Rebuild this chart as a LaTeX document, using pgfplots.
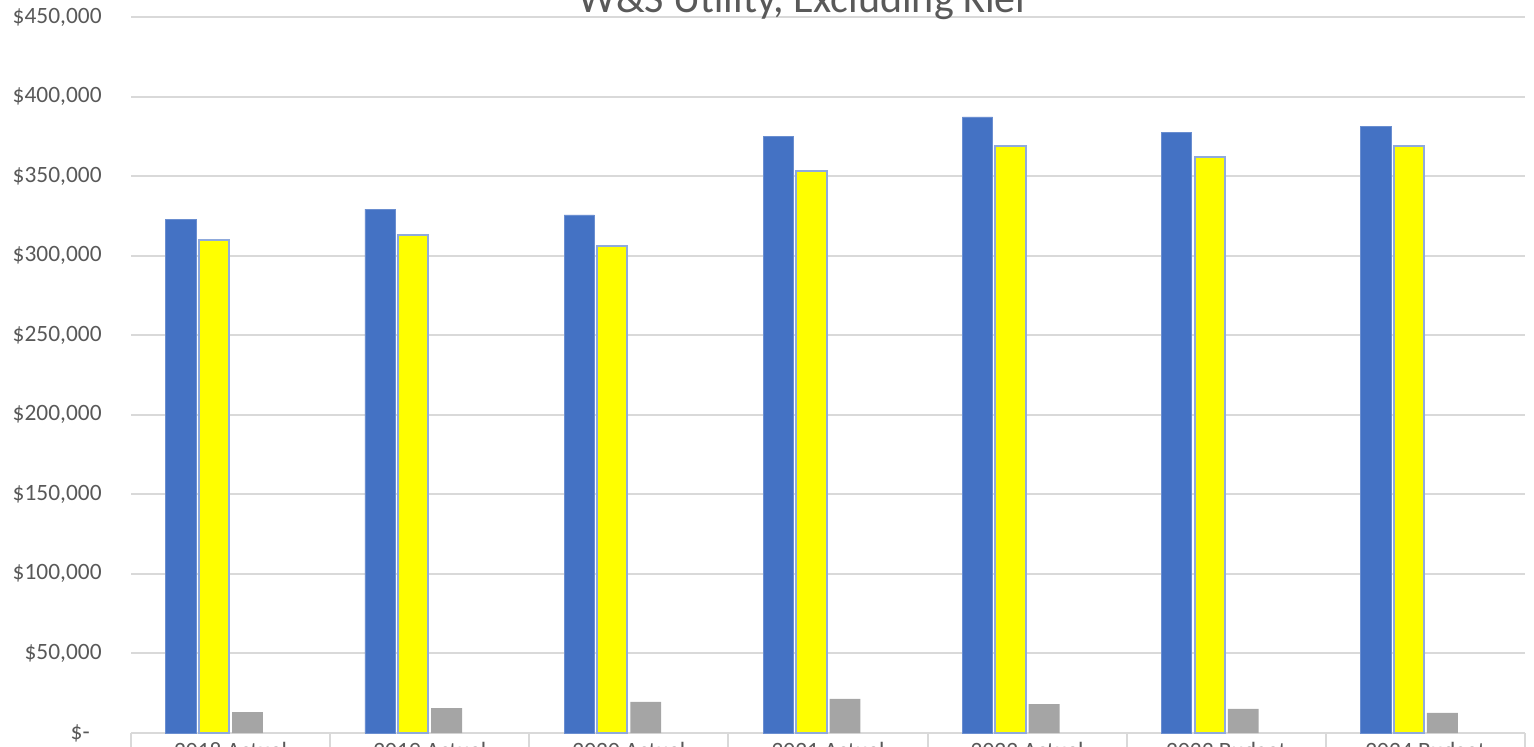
\documentclass[border=0pt]{standalone}
\usepackage{pgfplots}
\pgfplotsset{compat=1.18}
\usepackage{fontspec}
\setmainfont{Carlito}

\definecolor{barblue}{HTML}{4472C4}
\definecolor{baryellow}{HTML}{FFFF00}
\definecolor{bargray}{HTML}{A5A5A5}
\definecolor{edgeblue}{HTML}{8FAADC}
\definecolor{gridgray}{HTML}{D9D9D9}
\definecolor{labelgray}{HTML}{595959}

\begin{document}
\begin{tikzpicture}
\begin{axis}[
  scale only axis,
  width=697pt, height=358pt,
  xmin=-0.5, xmax=6.5,
  ymin=0, ymax=450000,
  axis line style={draw=none},
  ymajorgrids,
  grid style={color=gridgray, line width=1pt},
  major tick length=0pt,
  xtick pos=bottom, ytick pos=left,
  ytick={0,50000,...,450000},
  yticklabels={\$-\hphantom{0},{\$50,000},{\$100,000},{\$150,000},{\$200,000},{\$250,000},{\$300,000},{\$350,000},{\$400,000},{\$450,000}},
  yticklabel style={anchor=east, inner sep=0pt, xshift=-14.5pt,
    font=\fontsize{11.7}{14}\selectfont, text=labelgray},
  xtick={0,...,6},
  xticklabels={2018 Actual,2019 Actual,2020 Actual,2021 Actual,2022 Actual,2023 Budget,2024 Budget},
  xticklabel style={anchor=north, inner sep=0pt, yshift=-4.5pt,
    font=\fontsize{11.7}{14}\selectfont, text=labelgray},
  extra x ticks={-0.5,0.5,1.5,2.5,3.5,4.5,5.5,6.5},
  extra x tick labels={},
  extra x tick style={major tick length=40pt, tick align=outside,
    tick style={draw=gridgray, line width=1pt}},
]
% Revenue (blue)
\addplot[ybar, bar width=0.152, bar shift=-0.249, fill=barblue,
  draw=edgeblue!50!barblue, line width=0.4pt]
  coordinates {(0,323000) (1,329300) (2,325600) (3,375200) (4,387200) (5,377700) (6,381500)};
% Expenses (yellow)
\addplot[ybar, bar width=0.152, bar shift=-0.083, fill=baryellow,
  draw=edgeblue, line width=1pt]
  coordinates {(0,310000) (1,313200) (2,306300) (3,353500) (4,369200) (5,362300) (6,369200)};
% Net (gray)
\addplot[ybar, bar width=0.155, bar shift=0.085, fill=bargray, draw=none]
  coordinates {(0,13200) (1,15700) (2,19500) (3,21400) (4,18200) (5,15100) (6,12600)};
\end{axis}
\node[anchor=base, inner sep=0pt, font=\fontsize{21}{25}\selectfont, text=labelgray]
  at (335.5pt,360.15pt) {W\&S Utility, Excluding Kiel};
\pgfresetboundingbox
\useasboundingbox (-65.5pt,-6.5pt) rectangle (701.5pt,366.5pt);
\end{tikzpicture}
\end{document}
